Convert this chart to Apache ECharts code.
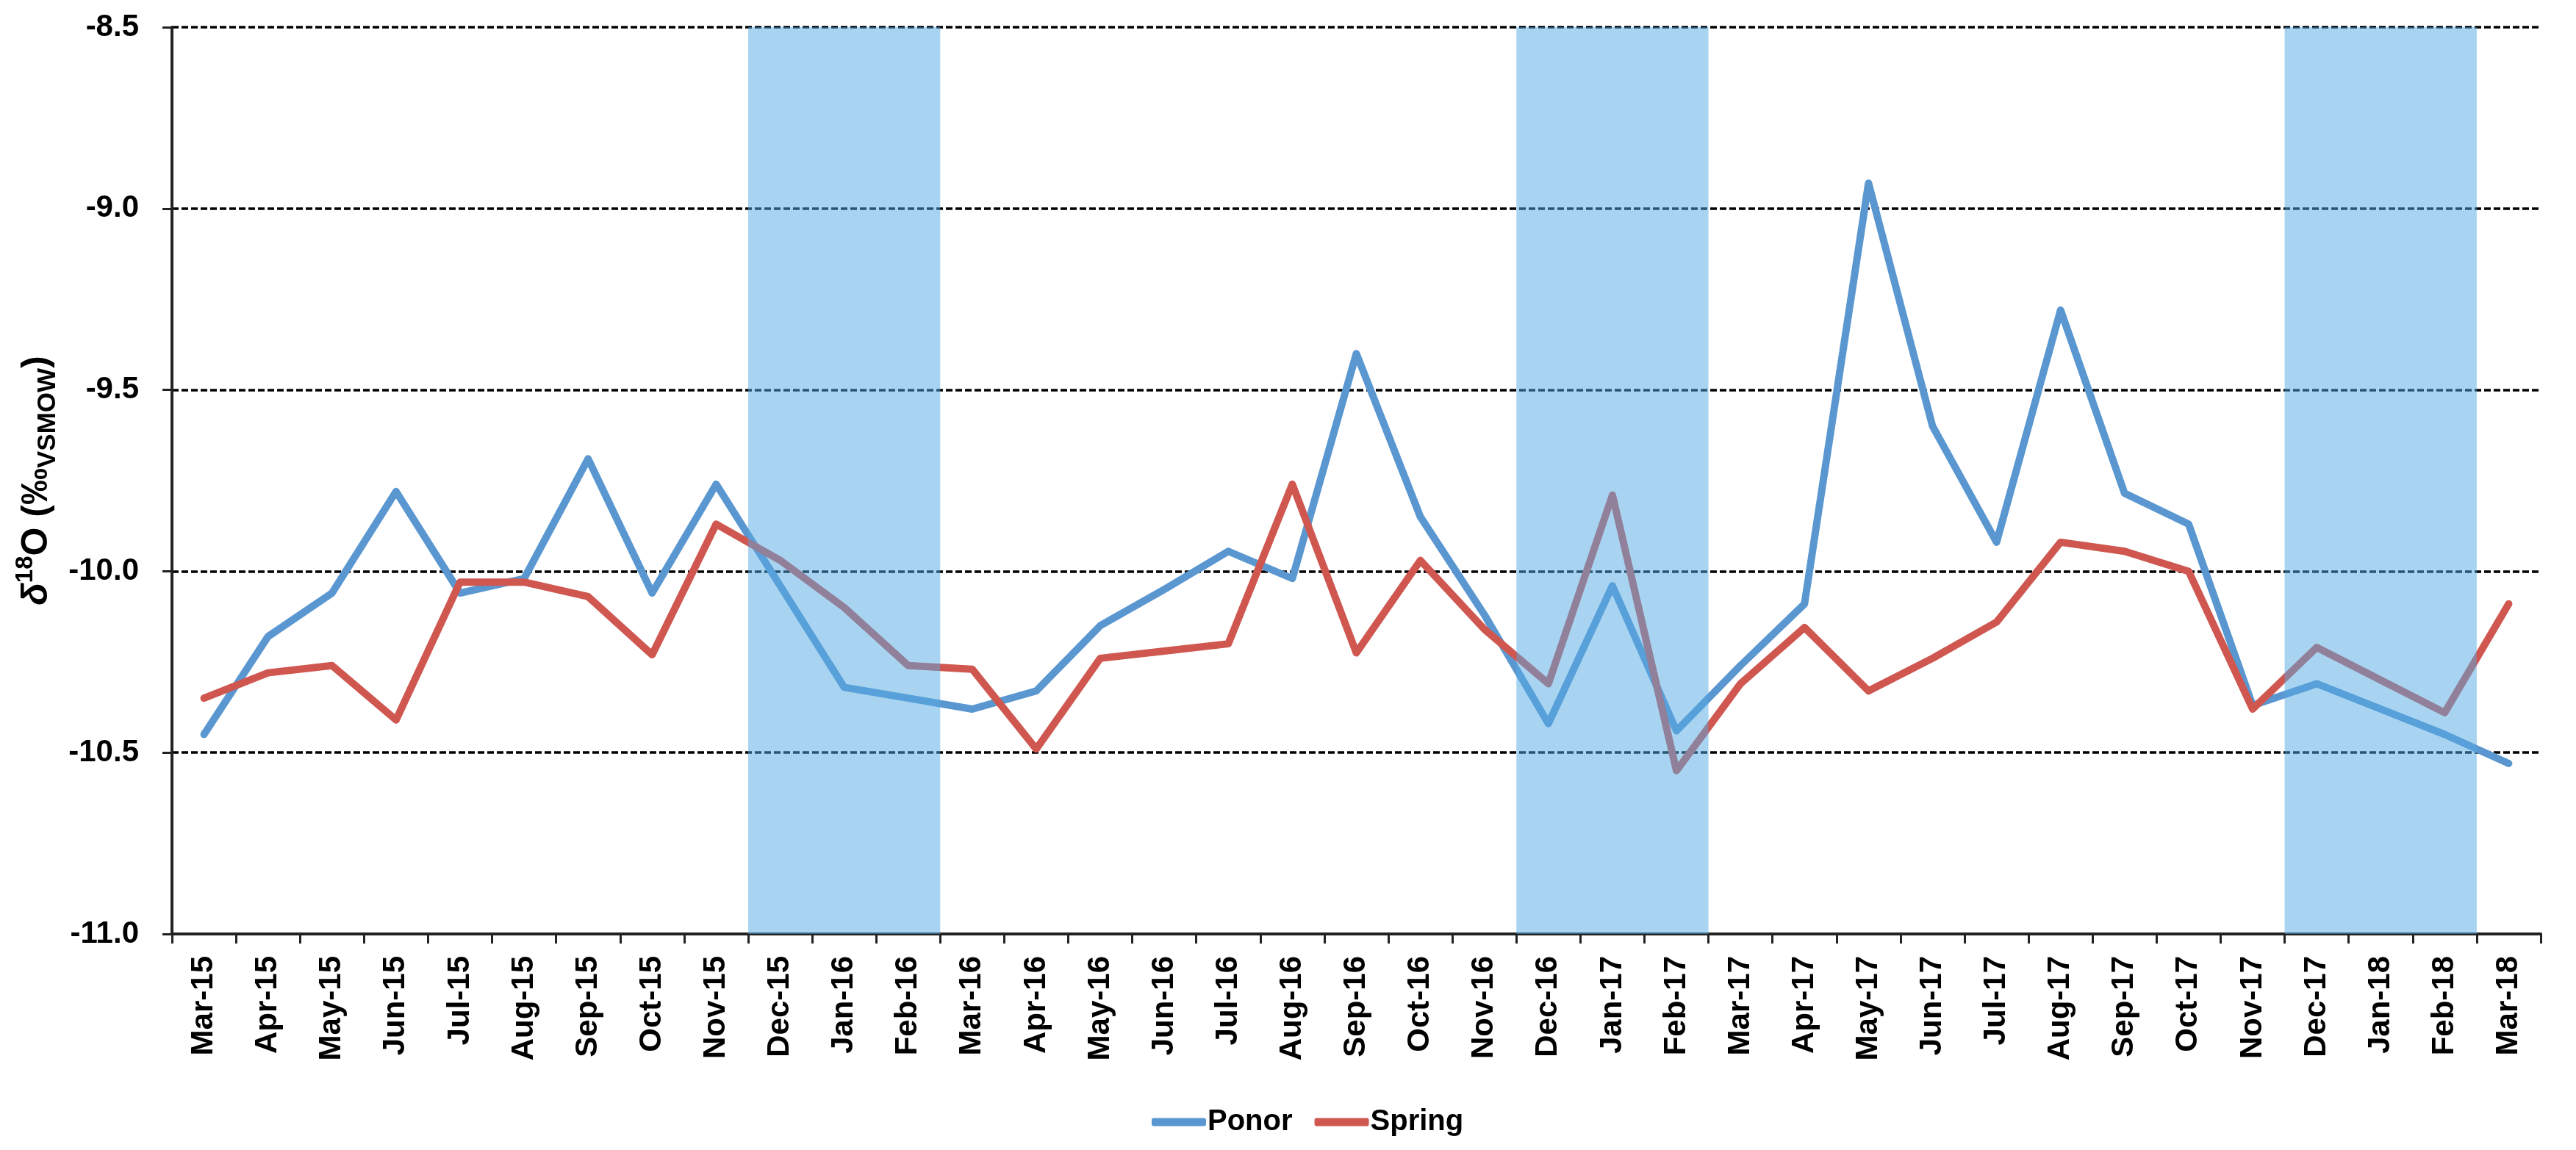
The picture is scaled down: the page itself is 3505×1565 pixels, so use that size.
<!DOCTYPE html>
<html>
<head>
<meta charset="utf-8">
<script src="https://cdn.jsdelivr.net/npm/echarts@6/dist/echarts.min.js"></script>
<style>
  html, body { margin: 0; padding: 0; background: #ffffff; }
  #chart { width: 3505px; height: 1565px; }
</style>
</head>
<body>
<div id="chart"></div>
<script>
const categories = ['Mar-15','Apr-15','May-15','Jun-15','Jul-15','Aug-15','Sep-15','Oct-15','Nov-15','Dec-15','Jan-16','Feb-16',
  'Mar-16','Apr-16','May-16','Jun-16','Jul-16','Aug-16','Sep-16','Oct-16','Nov-16','Dec-16','Jan-17','Feb-17',
  'Mar-17','Apr-17','May-17','Jun-17','Jul-17','Aug-17','Sep-17','Oct-17','Nov-17','Dec-17','Jan-18','Feb-18','Mar-18'];

const ponor = [-10.45,-10.18,-10.06,-9.78,-10.06,-10.02,-9.69,-10.06,-9.76,-10.04,-10.32,-10.35,
  -10.38,-10.33,-10.15,-10.05,-9.945,-10.02,-9.40,-9.85,-10.12,-10.42,-10.04,-10.44,
  -10.26,-10.09,-8.93,-9.60,-9.92,-9.28,-9.785,-9.87,-10.37,-10.31,-10.38,-10.45,-10.53];

const spring = [-10.35,-10.28,-10.26,-10.41,-10.03,-10.03,-10.07,-10.23,-9.87,-9.97,-10.10,-10.26,
  -10.27,-10.49,-10.24,-10.22,-10.20,-9.76,-10.225,-9.97,-10.16,-10.31,-9.79,-10.55,
  -10.31,-10.155,-10.33,-10.24,-10.14,-9.92,-9.945,-10.00,-10.38,-10.21,-10.30,-10.39,-10.09];

const winterBands = [['Dec-15','Feb-16'], ['Dec-16','Feb-17'], ['Dec-17','Feb-18']];

const yMin = -11.0, yMax = -8.5, yStep = 0.5;

const FONT = "'Liberation Sans', Arial, sans-serif";
const chart = echarts.init(document.getElementById('chart'), null, { renderer: 'canvas' });

chart.setOption({
  backgroundColor: '#ffffff',
  animation: false,
  textStyle: { fontFamily: FONT },
  grid: { left: 234, right: 48, top: 37, bottom: 294, containLabel: false },
  legend: {
    data: ['Ponor', 'Spring'],
    left: 1562,
    top: 1502,
    icon: 'roundRect',
    itemWidth: 74,
    itemHeight: 11,
    itemGap: 30,
    textStyle: { fontFamily: FONT, fontWeight: 'bold', fontSize: 40, color: '#000', padding: [0, 0, 0, -3] }
  },
  xAxis: [
    {
      type: 'category',
      data: categories,
      boundaryGap: true,
      axisLine: { show: true, onZero: false, lineStyle: { color: '#222', width: 4 } },
      axisTick: { show: true, length: 13, lineStyle: { color: '#222', width: 3 } },
      axisLabel: {
        rotate: 90, margin: 30, interval: 0,
        fontFamily: FONT, fontWeight: 'bold', fontSize: 42, color: '#000'
      },
      splitLine: { show: false }
    },
    { type: 'value', min: 0, max: categories.length, show: false }
  ],
  yAxis: {
    type: 'value',
    min: yMin, max: yMax, interval: yStep,
    name: '{d|δ}{sup|18}{m|O (‰}{sub|VSMOW}{m|)}',
    nameLocation: 'middle',
    nameRotate: 90,
    nameGap: 148,
    nameTextStyle: {
      rich: {
        d: { fontFamily: FONT, fontWeight: 'bold', fontStyle: 'italic', fontSize: 50, color: '#000', lineHeight: 64, verticalAlign: 'middle' },
        m: { fontFamily: FONT, fontWeight: 'bold', fontSize: 50, color: '#000', lineHeight: 64, verticalAlign: 'middle' },
        sup: { fontFamily: FONT, fontWeight: 'bold', fontSize: 33, color: '#000', lineHeight: 64, verticalAlign: 'top' },
        sub: { fontFamily: FONT, fontWeight: 'bold', fontSize: 35, color: '#000', lineHeight: 64, verticalAlign: 'bottom' }
      }
    },
    axisLine: { show: true, lineStyle: { color: '#222', width: 4 } },
    axisTick: { show: true, length: 13, lineStyle: { color: '#222', width: 3 } },
    axisLabel: {
      margin: 45,
      fontFamily: FONT, fontWeight: 'bold', fontSize: 42, color: '#000',
      formatter: v => v.toFixed(1)
    },
    splitLine: { show: true, lineStyle: { color: '#000', width: 3.5, type: [9, 4] } }
  },
  series: [
    {
      name: 'Ponor', type: 'line', data: ponor,
      showSymbol: false, symbol: 'none', smooth: false, z: 3,
      itemStyle: { color: '#5A97D0' },
      lineStyle: { color: '#5A97D0', width: 10, cap: 'round', join: 'round' }
    },
    {
      name: 'Spring', type: 'line', data: spring,
      showSymbol: false, symbol: 'none', smooth: false, z: 3,
      itemStyle: { color: '#CF5750' },
      lineStyle: { color: '#CF5750', width: 10, cap: 'round', join: 'round' }
    },
    {
      name: 'winter', type: 'line', xAxisIndex: 1, yAxisIndex: 0, data: [],
      silent: true, z: 10,
      markArea: {
        silent: true, z: 10,
        itemStyle: { color: 'rgba(83,169,227,0.5)' },
        data: winterBands.map(([a, b]) => [
          { xAxis: categories.indexOf(a) },
          { xAxis: categories.indexOf(b) + 1 }
        ])
      }
    }
  ]
});
</script>
</body>
</html>
